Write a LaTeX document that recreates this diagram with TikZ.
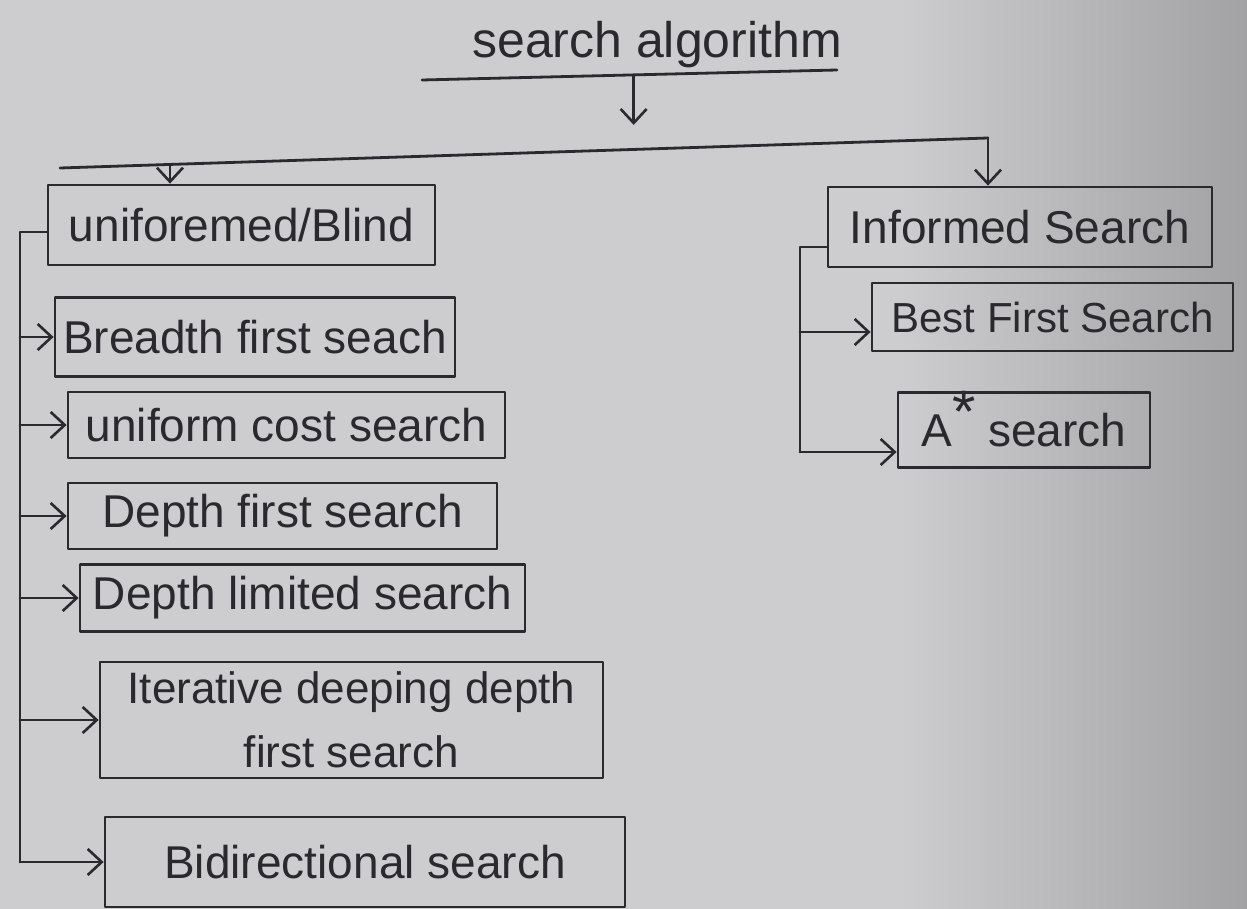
\documentclass[tikz,border=0pt]{standalone}
\usepackage{fontspec}
\setmainfont{Liberation Sans}
\usetikzlibrary{arrows.meta,calc}
\definecolor{paper}{HTML}{CDCCCF}
\definecolor{paperdark}{HTML}{A2A1A4}
\definecolor{ink}{HTML}{2A2A2E}
\begin{document}
\begin{tikzpicture}[x=0.5pt,y=-0.5pt,
  pen/.style={draw=ink,line width=1.4pt,line cap=round,line join=round},
  arr/.style={pen,-{Straight Barb[length=7pt,width=13pt,line width=1.3pt]}},
  box/.style 2 args={pen,rectangle,inner sep=2pt,text=ink,
    font=\fontsize{23}{27}\selectfont,
    minimum width=#1*0.5pt,minimum height=#2*0.5pt},
  label/.style={text=ink,font=\fontsize{25}{29}\selectfont,inner sep=0pt}]
% paper
\fill[paper] (0,0) rectangle (1247,909);
\shade[left color=paper,right color=paperdark] (900,0) rectangle (1247,909);
\useasboundingbox (0,0) rectangle (1247,909);

% root
\node[label] (title) at (657,45) {search algorithm};
\coordinate (ul1) at (422,80);
\coordinate (ul2) at (837,70);
\draw[pen] (ul1) -- (ul2);
\coordinate (ua) at ($(ul1)!0.51!(ul2)$);
\coordinate (ub2) at ($(ua)+(0,50)$);
\draw[arr] (ua) -- (ub2);

% distribution line
\coordinate (busL) at (60,168);
\coordinate (busR) at (988,138);
\draw[pen] (busL) -- (busR);
\coordinate (busU) at ($(busL)!0.1185!(busR)$);

% uninformed branch
\node[box={387}{80}] (ub) at (241.5,225) {uniforemed/Blind};
\node[box={400}{79}] (bfs) at (255,337) {Breadth first seach};
\node[box={437}{66}] (ucs) at (286.5,425) {uniform cost search};
\node[box={429}{66}] (dfs) at (282.5,516) {Depth first search};
\node[box={445}{67}] (dls) at (302.5,598) {Depth limited search};
\node[box={503}{116},align=center,font=\fontsize{22}{32}\selectfont] (ids) at (351.5,720)
  {Iterative deeping depth\\first search};
\node[box={520}{90}] (bds) at (365,862) {Bidirectional search};

% informed branch
\node[box={384}{80}] (inf) at (1020,227) {Informed Search};
\node[box={361}{68},font=\fontsize{21}{25}\selectfont] (best) at (1052.5,317) {Best First Search};
\node[box={252}{75}] (astar) at (1024,430)
  {A\smash{\raisebox{0.3em}{\fontsize{30}{30}\selectfont *}}\ search};

% arrows from the distribution line
\draw[arr] (busU) -- (busU |- ub.north);
\draw[arr] (busR) -- (busR |- inf.north);

% left spine
\coordinate (lt) at (20,232);
\coordinate (lb) at (20,862);
\draw[pen] (ub.west |- lt) -- (lt) -- (lb);
\draw[arr] (lt |- bfs.west) -- (bfs.west);
\draw[arr] (lt |- ucs.west) -- (ucs.west);
\draw[arr] (lt |- dfs.west) -- (dfs.west);
\draw[arr] (lt |- dls.west) -- (dls.west);
\draw[arr] (lt |- ids.west) -- (ids.west);
\draw[arr] (lb) -- (bds.west);

% right spine
\coordinate (rt) at (800,247);
\coordinate (rm) at (800,332);
\coordinate (rb) at (800,452);
\draw[pen] (inf.west |- rt) -- (rt) -- (rb);
\draw[arr] (rm) -- (best.west |- rm);
\draw[arr] (rb) -- (astar.west |- rb);
\end{tikzpicture}
\end{document}
